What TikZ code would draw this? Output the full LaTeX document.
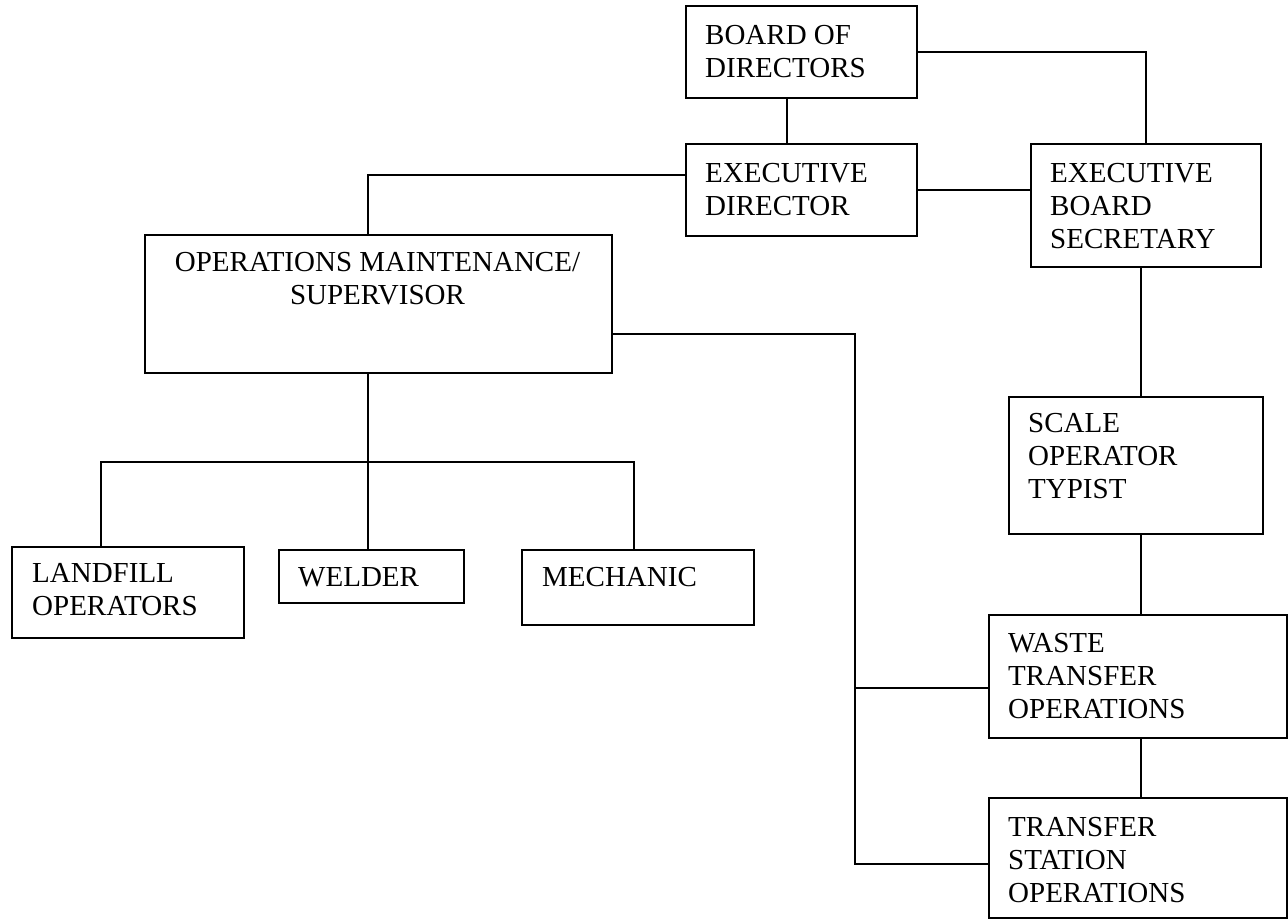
\documentclass[tikz,border=0pt]{standalone}
\usepackage{fontspec}
\setmainfont{Liberation Serif}

\tikzset{
  post/.style={draw, line width=1.6pt, anchor=north west, inner sep=0pt},
  title/.style={anchor=north west, align=left, inner sep=0pt,
                font=\fontsize{29}{33}\selectfont},
  wire/.style={line width=1.6pt}
}

\begin{document}
\begin{tikzpicture}[x=1pt, y=1pt]
        \useasboundingbox (0,0) rectangle (1288,-919);

        % boxes
        \node[post, minimum width=231pt, minimum height=92pt]  (bod) at (685,-5) {};
        \node[post, minimum width=231pt, minimum height=92pt]  (ed)  at (685,-143) {};
        \node[post, minimum width=230pt, minimum height=123pt] (ebs) at (1030,-143) {};
        \node[post, minimum width=467pt, minimum height=138pt] (oms) at (144,-234) {};
        \node[post, minimum width=232pt, minimum height=91pt]  (lfo) at (11,-546) {};
        \node[post, minimum width=185pt, minimum height=53pt]  (wel) at (278,-549) {};
        \node[post, minimum width=232pt, minimum height=75pt]  (mec) at (521,-549) {};
        \node[post, minimum width=254pt, minimum height=137pt] (sot) at (1008,-396) {};
        \node[post, minimum width=298pt, minimum height=123pt] (wto) at (988,-614) {};
        \node[post, minimum width=298pt, minimum height=120pt] (tso) at (988,-797) {};

        % texts
        \node[title] (bodt) at (705,-25) {BOARD OF\\DIRECTORS};
        \node[title] (edt)  at (705,-163) {EXECUTIVE\\DIRECTOR};
        \node[title] (ebst) at (1050,-163) {EXECUTIVE\\BOARD\\SECRETARY};
        \node[title, anchor=north, align=center] (omst) at (377.5,-252)
             {OPERATIONS MAINTENANCE/\\SUPERVISOR};
        \node[title] (lfot) at (32,-563) {LANDFILL\\OPERATORS};
        \node[title] (welt) at (298,-567) {WELDER};
        \node[title] (mect) at (542,-567) {MECHANIC};
        \node[title] (sott) at (1028,-413) {SCALE\\OPERATOR\\TYPIST};
        \node[title] (wtot) at (1008,-633) {WASTE\\TRANSFER\\OPERATIONS};
        \node[title] (tsot) at (1008,-817) {TRANSFER\\STATION\\OPERATIONS};

        % top of the chart
        \draw[wire] ([xshift=102pt]bod.south west) -- ([xshift=102pt]ed.north west);
        \draw[wire] (bod.east) -| (ebs.north);
        \draw[wire] (ed.east) -- (ed.east -| ebs.west);
        \draw[wire] ([yshift=15pt]ed.west) -| ([xshift=-10.5pt]oms.north);

        % right hand column
        \coordinate (spine) at ([xshift=-5pt]ebs.south);
        \draw[wire] (spine) -- (spine |- sot.north);
        \draw[wire] (spine |- sot.south) -- (spine |- wto.north);
        \draw[wire] (spine |- wto.south) -- (spine |- tso.north);

        \coordinate (bus) at (855,-334);
        \coordinate (wtoin) at ([yshift=-11.5pt]wto.west);
        \draw[wire] (bus -| oms.east) -- (bus) |- ([yshift=-6pt]tso.west);
        \draw[wire] (wtoin) -- (wtoin -| bus);

        % workers
        \coordinate (drop) at ([xshift=-10.5pt]oms.south);
        \draw[wire] (drop) -- (drop |- wel.north);
        \draw[wire] ([xshift=-27pt]lfo.north) -- ++(0,84) -| ([xshift=-4pt]mec.north);
\end{tikzpicture}
\end{document}
